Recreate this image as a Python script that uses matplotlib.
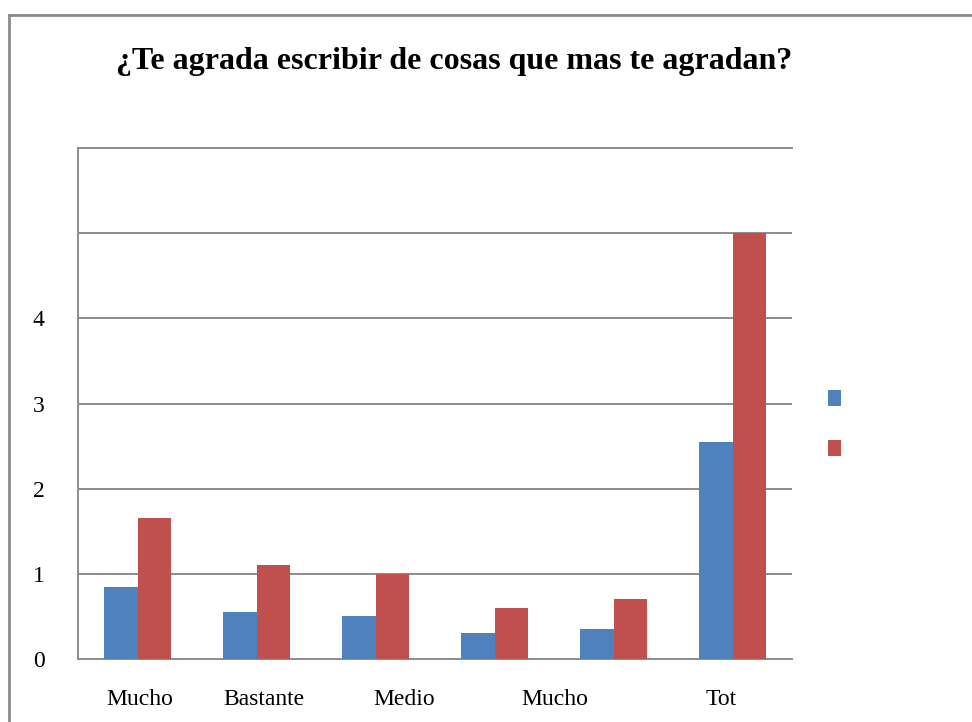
import matplotlib.pyplot as plt
import numpy as np
from matplotlib.lines import Line2D

# data
categories = ["Mucho", "Bastante", "Medio", "Mucho", "", "Tot"]
serie_azul = [0.85, 0.55, 0.5, 0.3, 0.35, 2.55]
serie_roja = [1.65, 1.1, 1.0, 0.6, 0.7, 5.0]
ytick_vals = [0, 1, 2, 3, 4]

# x positions where the category text sits (labels are offset in the original)
label_x = [0.02, 1.06, 2.24, 3.51, 4.905]
label_txt = ["Mucho", "Bastante", "Medio", "Mucho", "Tot"]

plt.rcParams['font.family'] = ['Liberation Serif', 'DejaVu Serif']

fig = plt.figure(figsize=(9.72, 7.22), dpi=100)
ax = fig.add_axes([78 / 972, 1 - 659 / 722, (792 - 78) / 972, (659 - 148) / 722])

x = np.arange(len(categories))
w = 0.285
bars1 = ax.bar(x - w / 2, serie_azul, w, color='#4F81BD', zorder=3)
bars2 = ax.bar(x + w / 2, serie_roja, w, color='#C0504D', zorder=3)

ax.set_xlim(-0.5, len(categories) - 0.5)
ax.set_ylim(0, 6)
ax.set_yticks(ytick_vals)
ax.set_yticklabels([str(v) for v in ytick_vals], fontsize=17)
ax.tick_params(axis='y', length=0, pad=24)
ax.set_xticks([])
for yv in range(1, 6):
    ax.axhline(yv, color='#8C8C8C', lw=1.4, zorder=1)

for s in ['left', 'top', 'bottom']:
    ax.spines[s].set_color('#8C8C8C')
    ax.spines[s].set_linewidth(1.4)
ax.spines['right'].set_visible(False)

for lx, lt in zip(label_x, label_txt):
    ax.text(lx, -0.47, lt, ha='center', va='center', fontsize=17)

fig.text(454 / 972, 1 - 61 / 722, "¿Te agrada escribir de cosas que mas te agradan?",
         ha='center', va='center', fontsize=23, fontweight='bold')

fig.legend([bars1, bars2], ['', ''], loc='center left',
           bbox_to_anchor=(810 / 972, 1 - 424 / 722), frameon=False,
           handlelength=0.7, handleheight=0.9, labelspacing=1.6, fontsize=14)

# outer chart frame (only top and left edges show)
fig.add_artist(Line2D([9 / 972, 1], [1 - 15 / 722, 1 - 15 / 722], color='#8C8C8C', lw=2))
fig.add_artist(Line2D([9 / 972, 9 / 972], [0, 1 - 15 / 722], color='#8C8C8C', lw=2))

fig.savefig("out.png", dpi=100)
